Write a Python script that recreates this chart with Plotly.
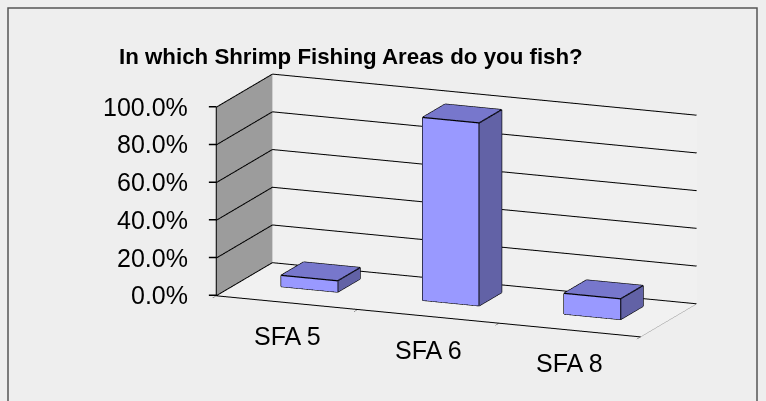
import plotly.graph_objects as go

# ---- data ----
categories = ["SFA 5", "SFA 6", "SFA 8"]
values = [0.06, 0.97, 0.11]
tick_vals = [0, 0.2, 0.4, 0.6, 0.8, 1.0]
tick_text = ["0.0%", "20.0%", "40.0%", "60.0%", "80.0%", "100.0%"]
title_text = "In which Shrimp Fishing Areas do you fish?"

FRONT = "#9999ff"
TOP = "#7777cc"
SIDE = "#6262a6"
FONT = "Liberation Sans, Arial, sans-serif"

n = len(categories)
bar_w = 0.4
y0b, y1b = 0.4, 0.8

fig = go.Figure()

# ---- bars ----
ex, ey, ez = [], [], []
for i, v in enumerate(values):
    xc = i + 0.5
    x0, x1 = xc - bar_w / 2, xc + bar_w / 2
    X = [x0, x1, x1, x0, x0, x1, x1, x0]
    Y = [y0b, y0b, y1b, y1b, y0b, y0b, y1b, y1b]
    Z = [0, 0, 0, 0, v, v, v, v]
    I, J, K, C = [], [], [], []
    faces = [
        ((0, 1, 5, 4), FRONT),
        ((4, 5, 6, 7), TOP),
        ((1, 2, 6, 5), SIDE),
        ((0, 3, 7, 4), SIDE),
        ((3, 2, 6, 7), SIDE),
        ((0, 1, 2, 3), SIDE),
    ]
    for (a, b, c, d), col in faces:
        I += [a, a]; J += [b, c]; K += [c, d]; C += [col, col]
    fig.add_trace(go.Mesh3d(x=X, y=Y, z=Z, i=I, j=J, k=K, facecolor=C,
                            flatshading=True,
                            lighting=dict(ambient=1, diffuse=0, specular=0, roughness=1, fresnel=0),
                            hoverinfo="skip", showscale=False))
    edges = [(0, 1), (1, 2), (2, 3), (3, 0), (4, 5), (5, 6), (6, 7), (7, 4),
             (0, 4), (1, 5), (2, 6), (3, 7)]
    for a, b in edges:
        ex += [X[a], X[b], None]; ey += [Y[a], Y[b], None]; ez += [Z[a], Z[b], None]

fig.add_trace(go.Scatter3d(x=ex, y=ey, z=ez, mode="lines",
                           line=dict(color="black", width=2.5),
                           hoverinfo="skip", showlegend=False))

# ---- gridlines on the back wall and the side wall ----
gx, gy, gz = [], [], []
for v in tick_vals:
    gx += [0, 0, n, None]; gy += [0, 1, 1, None]; gz += [v, v, v, None]
fig.add_trace(go.Scatter3d(x=gx, y=gy, z=gz, mode="lines",
                           line=dict(color="black", width=2),
                           hoverinfo="skip", showlegend=False))

# ---- labels and value-axis ticks as scene annotations ----
annots = []
for v, t in zip(tick_vals, tick_text):
    annots.append(dict(x=0, y=0, z=v, text=t, showarrow=False, xanchor="right",
                       yanchor="middle", xshift=-26, font=dict(size=25, color="black", family=FONT)))
    annots.append(dict(x=0, y=0, z=v, text="", showarrow=True, arrowhead=0,
                       arrowwidth=1.5, arrowcolor="black", ax=-9, ay=0, standoff=0))
for i, c in enumerate(categories):
    annots.append(dict(x=i + 0.5, y=0, z=0, text=c, showarrow=False, xanchor="center",
                       yanchor="middle", yshift=-34, font=dict(size=25, color="black", family=FONT)))

fig.update_layout(
    width=766, height=401,
    margin=dict(l=0, r=0, t=0, b=0),
    paper_bgcolor="#eeeeee",
    showlegend=False,
    font=dict(family=FONT, color="black"),
    scene=dict(
        domain=dict(x=[0.196, 0.996], y=[0.0888, 0.8888]),
        xaxis=dict(range=[0, n], tickvals=list(range(n + 1)), showticklabels=False,
                   showgrid=False, zeroline=False, showline=True, linecolor="black",
                   linewidth=2, showbackground=True, backgroundcolor="#9c9c9c",
                   title=dict(text=""), ticks="outside", ticklen=5, tickcolor="black"),
        yaxis=dict(range=[0, 1], showticklabels=False, showgrid=False, zeroline=False,
                   showline=True, linecolor="#909090", showbackground=True,
                   backgroundcolor="#f0f0f0", title=dict(text=""), ticks=""),
        zaxis=dict(range=[0, 1], tickvals=tick_vals, showticklabels=False,
                   showgrid=False, zeroline=False,
                   showline=True, linecolor="black", linewidth=2,
                   showbackground=True, backgroundcolor="#f1f1f1",
                   title=dict(text=""), ticks=""),
        aspectmode="manual",
        aspectratio=dict(x=2.853, y=0.931, z=1.21),
        camera=dict(eye=dict(x=0.365 * 2.0, y=-0.900 * 2.0, z=0.239 * 2.0),
                    center=dict(x=0, y=0, z=0), up=dict(x=0, y=0, z=1),
                    projection=dict(type="orthographic")),
        annotations=annots,
    ),
    annotations=[dict(text="<b>" + title_text + "</b>", x=350.5 / 766, y=1 - 42 / 401,
                      xref="paper", yref="paper", showarrow=False,
                      font=dict(size=22.3, color="black", family=FONT))],
    shapes=[dict(type="rect", xref="paper", yref="paper", x0=8 / 766, x1=757 / 766,
                 y0=-0.1, y1=1 - 8 / 401, line=dict(color="#555555", width=1.5))],
)

fig.write_html("out.html")
